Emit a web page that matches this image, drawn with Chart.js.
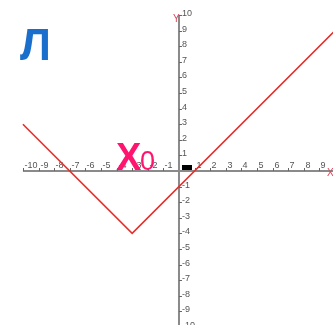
<!DOCTYPE html>
<html>
<head>
<meta charset="utf-8">
<script src="https://cdn.jsdelivr.net/npm/chart.js@4"></script>
<style>
html,body{margin:0;padding:0;background:#fff;overflow:hidden}
</style>
</head>
<body>
<canvas id="chart" width="333" height="325"></canvas>
<script>
// y = |x + 3| - 4
var xPoints = [-10, -3, 10];
var yPoints = [3, -4, 9];

var xTicks = [-10, -9, -8, -7, -6, -5, -4, -3, -2, -1, 1, 2, 3, 4, 5, 6, 7, 8, 9];
var yTicks = [10, 9, 8, 7, 6, 5, 4, 3, 2, 1, -1, -2, -3, -4, -5, -6, -7, -8, -9, -10];

var puntos = xPoints.map(function (x, i) {
    return {x: x, y: yPoints[i]};
});

var ejes = {
    id: 'ejes',
    beforeDatasetsDraw: function (chart) {
        var ctx = chart.ctx;
        var sx = chart.scales.x, sy = chart.scales.y;
        var x0 = sx.getPixelForValue(0), y0 = sy.getPixelForValue(0);
        ctx.save();
        ctx.strokeStyle = '#8a8a8a';
        ctx.lineWidth = 2;
        ctx.beginPath();
        ctx.moveTo(sx.getPixelForValue(-10), y0);
        ctx.lineTo(chart.width, y0);
        ctx.moveTo(x0, sy.getPixelForValue(10));
        ctx.lineTo(x0, chart.height);
        ctx.stroke();

        ctx.lineWidth = 1;
        ctx.strokeStyle = '#666';
        ctx.fillStyle = '#555';
        ctx.font = '9px "Liberation Sans", Arial, sans-serif';
        ctx.textAlign = 'left';
        ctx.textBaseline = 'alphabetic';
        xTicks.forEach(function (t) {
            var px = Math.round(sx.getPixelForValue(t)) + 0.5;
            ctx.beginPath();
            ctx.moveTo(px, y0 - 3);
            ctx.lineTo(px, y0);
            ctx.stroke();
            ctx.fillText(String(t), px + 1, y0 - 3);
        });
        ctx.textBaseline = 'middle';
        yTicks.forEach(function (t) {
            var py = Math.round(sy.getPixelForValue(t)) + 0.5;
            ctx.beginPath();
            ctx.moveTo(x0, py);
            ctx.lineTo(x0 + 3, py);
            ctx.stroke();
            ctx.fillText(String(t), x0 + 3, py - 2);
        });

        // marca del origen
        ctx.fillStyle = '#000';
        ctx.fillRect(x0 + 3, y0 - 6, 10, 5);

        // nombres de ejes
        ctx.fillStyle = '#e0455a';
        ctx.font = '10px "Liberation Sans", Arial, sans-serif';
        ctx.textAlign = 'left';
        ctx.textBaseline = 'alphabetic';
        ctx.fillText('Y', x0 - 6, sy.getPixelForValue(10) + 7);
        ctx.fillText('X', chart.width - 6, y0 + 5);
        ctx.restore();
    },
    afterDraw: function (chart) {
        var ctx = chart.ctx;
        ctx.save();
        ctx.textBaseline = 'alphabetic';
        ctx.textAlign = 'left';
        ctx.fillStyle = '#1a6fcc';
        ctx.font = 'bold 44px "Liberation Sans", Arial, sans-serif';
        ctx.fillText('Л', 20, 60);
        ctx.fillStyle = '#ff1470';
        ctx.font = 'bold 38px "Liberation Sans", Arial, sans-serif';
        ctx.fillText('X', 116, 170);
        ctx.font = '27px "Liberation Sans", Arial, sans-serif';
        ctx.fillText('0', 140, 170);
        ctx.restore();
    }
};

var canvas = document.getElementById('chart').getContext('2d');
window.grafico = new Chart(canvas, {
    type: 'scatter',
    data: {
        datasets: [{
            data: puntos,
            showLine: true,
            borderColor: '#e4302c',
            borderWidth: 1.6,
            pointRadius: 0,
            tension: 0
        }]
    },
    options: {
        responsive: false,
        animation: false,
        layout: {padding: 0},
        plugins: {
            legend: {display: false},
            tooltip: {enabled: false}
        },
        scales: {
            x: {type: 'linear', min: -11.47, max: 9.87, display: false},
            y: {type: 'linear', min: -9.87, max: 10.96, display: false}
        }
    },
    plugins: [ejes]
});
</script>
</body>
</html>
